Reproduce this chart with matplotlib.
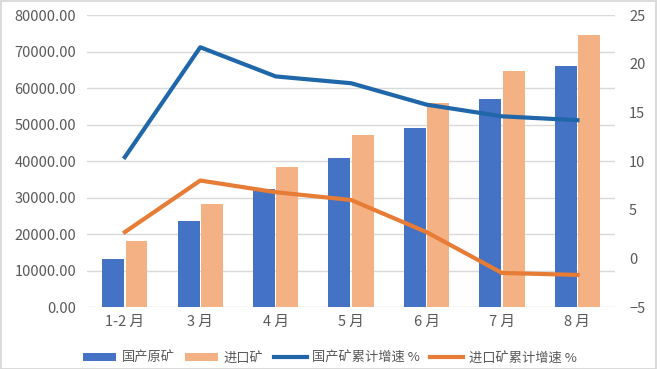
import matplotlib
matplotlib.use("Agg")
import matplotlib.pyplot as plt
from matplotlib.patches import Rectangle
import numpy as np

plt.rcParams['font.family'] = ['Noto Sans CJK SC', 'DejaVu Sans']

months = ["1-2 月", "3 月", "4 月", "5 月", "6 月", "7 月", "8 月"]
domestic = [13200, 23600, 32300, 40800, 49000, 57000, 66000]
imported = [18100, 28300, 38400, 47100, 55900, 64700, 74500]
domestic_growth = [10.4, 21.7, 18.7, 18.0, 15.8, 14.6, 14.2]
imported_growth = [2.7, 8.0, 6.8, 6.0, 2.7, -1.5, -1.7]

c_dom = "#4472C4"
c_imp = "#F4B183"
c_dom_line = "#1F67A8"
c_imp_line = "#E67C35"
txt = "#595959"

fig = plt.figure(figsize=(6.6, 3.69), dpi=100)
# thin frame around the screenshot
fig.patches.append(Rectangle((0.002, 0.001), 0.992, 0.996, transform=fig.transFigure,
                             fill=False, edgecolor="#D4D4D4", lw=1.2))

ax = fig.add_axes([0.132, 0.168, 0.80, 0.791])
ax2 = ax.twinx()

x = np.arange(len(months))
w = 0.29
ax.bar(x - w / 2 - 0.01, domestic, w, color=c_dom, label="国产原矿", zorder=2)
ax.bar(x + w / 2 + 0.01, imported, w, color=c_imp, label="进口矿", zorder=2)

ax2.plot(x, domestic_growth, color=c_dom_line, lw=3, label="国产矿累计增速 %", zorder=3)
ax2.plot(x, imported_growth, color=c_imp_line, lw=3, label="进口矿累计增速 %", zorder=3)

ax.set_xlim(-0.5, len(months) - 0.5)
ax.set_ylim(0, 80000)
ax.set_yticks(np.arange(0, 80001, 10000))
ax.set_yticklabels([f"{v:.2f}" for v in np.arange(0, 80001, 10000)])
ax2.set_ylim(-5, 25)
ax2.set_yticks(np.arange(-5, 26, 5))

ax.set_xticks(x)
ax.set_xticklabels(months)

ax.grid(axis="y", color="#D9D9D9", lw=1, zorder=0)
ax.set_axisbelow(True)
for a in (ax, ax2):
    for s in a.spines.values():
        s.set_visible(False)
    a.tick_params(length=0, colors=txt, labelsize=10.5)
ax.tick_params(axis="y", pad=8)
ax.tick_params(axis="x", pad=6)
ax2.tick_params(axis="y", pad=10)

h1, l1 = ax.get_legend_handles_labels()
h2, l2 = ax2.get_legend_handles_labels()
fig.legend(h1 + h2, l1 + l2, loc="lower center", bbox_to_anchor=(0.5, -0.02),
           ncol=4, frameon=False, fontsize=9.5, labelcolor=txt,
           handlelength=2.5, handleheight=0.5, columnspacing=0.8, handletextpad=0.4)

fig.savefig("out.png", dpi=100)
